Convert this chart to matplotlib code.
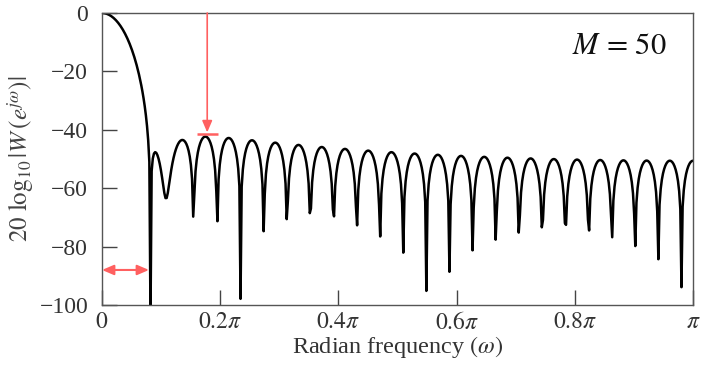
import numpy as np
import matplotlib
matplotlib.use("Agg")
import matplotlib.pyplot as plt

# Data: Hamming window, M = 50 (length M+1)
M = 50
ham_a0 = 0.54
ham_a1 = 0.46
n_freq = 513
xticks = [0, 0.2, 0.4, 0.6, 0.8, 1.0]
xticklabels = [r"$0$", r"$0.2\pi$", r"$0.4\pi$", r"$0.6\pi$", r"$0.8\pi$", r"$\pi$"]
yticks = [0, -20, -40, -60, -80, -100]
peak_sidelobe_w = 0.178   # in units of pi
peak_sidelobe_db = -41.5
mainlobe_half = 0.0795    # in units of pi
mainlobe_arrow_db = -88

n = np.arange(M + 1)
w = ham_a0 - ham_a1 * np.cos(2 * np.pi * n / M)
omega = np.linspace(0, np.pi, n_freq)
W = np.abs(np.exp(-1j * np.outer(omega, n)) @ w)
W_db = 20 * np.log10(np.maximum(W / W[0], 1e-12))
x = omega / np.pi

plt.rcParams["mathtext.fontset"] = "stix"
plt.rcParams["font.family"] = ["Liberation Serif", "DejaVu Serif"]

fig = plt.figure(figsize=(7.06, 3.69), dpi=100)
ax = fig.add_axes([0.1445, 0.1734, 0.8371, 0.7914])
ax.plot(x, W_db, color="black", lw=1.8)
ax.set_xlim(0, 1)
ax.set_ylim(-100, 0)

ax.set_xticks(xticks)
ax.set_xticklabels(xticklabels)
ax.set_yticks(yticks)
ax.set_yticklabels(["0" if v == 0 else "\u2212" + str(abs(v)) for v in yticks])
ax.tick_params(direction="in", length=11, width=1.0, color="#444444",
               labelsize=17, labelcolor="#333333")
ax.tick_params(axis="y", pad=10)
ax.tick_params(axis="x", pad=5)
for s in ax.spines.values():
    s.set_color("#555555")
    s.set_linewidth(1.0)

ax.set_xlabel(r"Radian frequency $(\omega)$", fontsize=17.5, color="#333333", labelpad=0)
ax.set_ylabel(r"$20\ \log_{10}|W\,(e^{j\omega})|$", fontsize=18, color="#444444", labelpad=2)

red = "#ff6060"
ax.annotate("", xy=(peak_sidelobe_w, peak_sidelobe_db + 0.6), xytext=(peak_sidelobe_w, 0),
            arrowprops=dict(arrowstyle="-|>,head_length=0.7,head_width=0.3", color=red, lw=1.2,
                            shrinkA=0, shrinkB=0))
ax.plot([peak_sidelobe_w - 0.018, peak_sidelobe_w + 0.018], [peak_sidelobe_db, peak_sidelobe_db],
        color=red, lw=1.8, solid_capstyle="butt")
ax.annotate("", xy=(mainlobe_half, mainlobe_arrow_db), xytext=(0, mainlobe_arrow_db),
            arrowprops=dict(arrowstyle="<|-|>,head_length=0.7,head_width=0.3", color=red, lw=1.5,
                            shrinkA=0, shrinkB=0))

ax.text(0.955, 0.935, r"$M\,=\,50$", transform=ax.transAxes, ha="right", va="top",
        fontsize=22, color="#111111")

fig.savefig("out.png", dpi=100)
